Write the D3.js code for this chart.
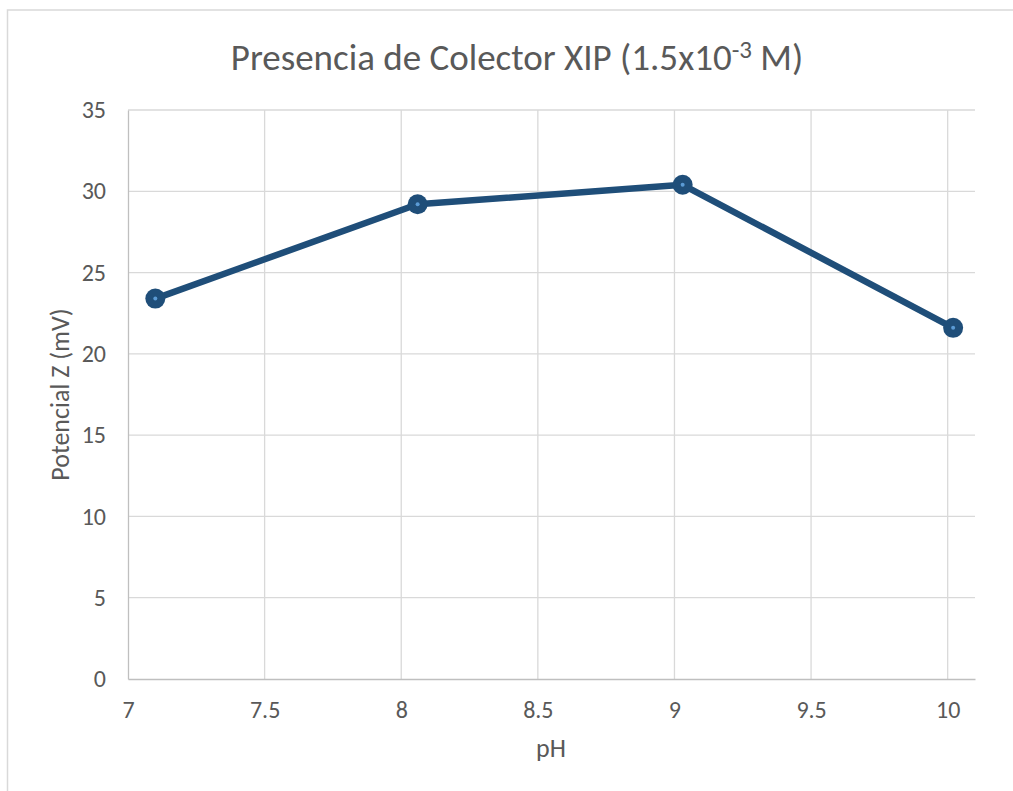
<!DOCTYPE html>
<html>
<head>
<meta charset="utf-8">
<script src="https://cdn.jsdelivr.net/npm/d3@7"></script>
<style>
  html, body { margin: 0; padding: 0; background: #fff; }
  svg { display: block; }
  text { font-family: Carlito, Lato, "Open Sans", sans-serif; fill: #595959; }
</style>
</head>
<body>
<svg id="chart" width="1013" height="791"></svg>
<script>
// pH values and measured zeta potential (mV)
const phValues = [7.1, 8.06, 9.03, 10.02];
const zetaValues = [23.4, 29.2, 30.4, 21.6];
const xTicks = [7, 7.5, 8, 8.5, 9, 9.5, 10];
const yTicks = [0, 5, 10, 15, 20, 25, 30, 35];

const svg = d3.select("#chart");
const plot = { left: 128, right: 975, top: 110, bottom: 679 };

// chart frame
svg.append("path")
  .attr("d", "M7.5,791 V10 H1013")
  .attr("fill", "none")
  .attr("stroke", "#d9d9d9")
  .attr("stroke-width", 1.5);

const x = d3.scaleLinear().domain([7, 10.1]).range([plot.left, plot.right]);
const y = d3.scaleLinear().domain([0, 35]).range([plot.bottom, plot.top]);

// gridlines
const grid = svg.append("g");
grid.selectAll("line.h").data(yTicks.filter(d => d > 0)).join("line")
  .attr("x1", plot.left).attr("x2", plot.right)
  .attr("y1", d => y(d)).attr("y2", d => y(d))
  .attr("stroke", "#d9d9d9").attr("stroke-width", 1.3);
grid.selectAll("line.v").data(xTicks.filter(d => d > 7)).join("line")
  .attr("y1", plot.top).attr("y2", plot.bottom)
  .attr("x1", d => x(d)).attr("x2", d => x(d))
  .attr("stroke", "#d9d9d9").attr("stroke-width", 1.3);

// axes
const xAxis = svg.append("g").attr("transform", `translate(0,${plot.bottom})`)
  .call(d3.axisBottom(x).tickValues(xTicks).tickSize(0).tickPadding(22).tickFormat(d3.format("")));
xAxis.select(".domain").attr("stroke", "#bfbfbf").attr("stroke-width", 1.3);
xAxis.selectAll("text").attr("font-size", 24).attr("fill", "#595959");

const yAxis = svg.append("g").attr("transform", `translate(${plot.left},0)`)
  .call(d3.axisLeft(y).tickValues(yTicks).tickSize(0).tickPadding(22));
yAxis.select(".domain").attr("stroke", "#bfbfbf").attr("stroke-width", 1.3);
yAxis.selectAll("text").attr("font-size", 24).attr("fill", "#595959");

// axis titles
svg.append("text")
  .attr("x", 551).attr("y", 757)
  .attr("text-anchor", "middle").attr("font-size", 26)
  .text("pH");
svg.append("text")
  .attr("transform", `translate(69,${(plot.top + plot.bottom) / 2}) rotate(-90)`)
  .attr("text-anchor", "middle").attr("font-size", 26)
  .text("Potencial Z (mV)");

// title with superscript exponent
const title = svg.append("text")
  .attr("x", 517).attr("y", 70)
  .attr("text-anchor", "middle").attr("font-size", 37).attr("font-weight", 300);
title.append("tspan").text("Presencia de Colector XIP (1.5x10");
title.append("tspan").attr("dy", -12).attr("font-size", 25).text("-3");
title.append("tspan").attr("dy", 12).text(" M)");

// series line
const data = phValues.map((p, i) => ({ ph: p, z: zetaValues[i] }));
svg.append("path")
  .datum(data)
  .attr("fill", "none")
  .attr("stroke", "#1f4e79")
  .attr("stroke-width", 6.5)
  .attr("stroke-linejoin", "round")
  .attr("d", d3.line().x(d => x(d.ph)).y(d => y(d.z)));

// markers
const pts = svg.append("g").selectAll("g").data(data).join("g")
  .attr("transform", d => `translate(${x(d.ph)},${y(d.z)})`);
pts.append("circle").attr("r", 10).attr("fill", "#1f4e79");
pts.append("circle").attr("r", 2).attr("fill", "#5b9bd5");
</script>
</body>
</html>
